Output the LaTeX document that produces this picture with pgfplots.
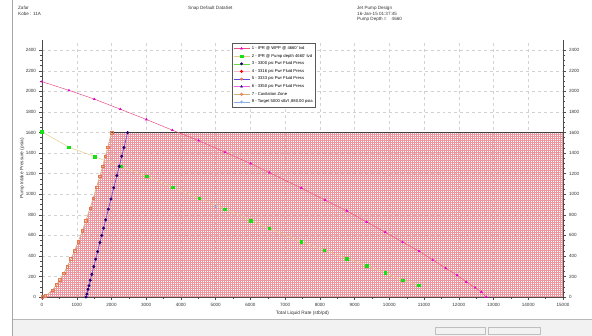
\documentclass[border=0pt]{standalone}
\usepackage{pgfplots}
\pgfplotsset{compat=1.18}
\usepackage{fontspec}
\setmainfont{Liberation Sans}
\usetikzlibrary{patterns.meta}
\definecolor{iprline}{RGB}{236,80,130}
\definecolor{iprmark}{RGB}{225,0,210}
\definecolor{grnmark}{RGB}{20,225,20}
\definecolor{grnline}{RGB}{228,205,140}
\definecolor{cavcol}{RGB}{228,120,80}
\definecolor{cavline}{RGB}{215,175,110}
\definecolor{pumpline}{RGB}{95,70,230}
\definecolor{pumpmark}{RGB}{30,0,120}
\definecolor{tgtcol}{RGB}{140,175,225}
\definecolor{hatch}{RGB}{236,150,160}
\begin{document}
\begin{tikzpicture}
\useasboundingbox (0bp,0bp) rectangle (592bp,336bp);
\fill[gray!10] (12bp,0bp) rectangle (592bp,17bp);
\draw[gray!55,line width=0.6bp] (12bp,17bp) -- (592bp,17bp);
\draw[gray!70,line width=0.6bp] (12bp,0bp) -- (12bp,336bp);
\draw[gray!50] (435bp,2bp) rectangle (485bp,9bp);
\draw[gray!50] (488bp,2bp) rectangle (540bp,9bp);
\begin{scope}[every node/.style={font=\fontsize{4.6}{5.6}\selectfont, inner sep=0pt, align=left, text=black!80}]
\node[anchor=north west] at (18bp,330bp) {Zafar\\Kobe : 11A};
\node[anchor=north west] at (188bp,330bp) {Snap Default DataSet};
\node[anchor=north west] at (357bp,330bp) {Jet Pump Design\\16-Jan-15 01:37:45\\Pump Depth = \ \ \ 4660};
\end{scope}
\begin{axis}[
  at={(42bp,39bp)}, anchor=south west, scale only axis,
  width=521bp, height=257bp,
  xmin=0, xmax=15000, ymin=0, ymax=2500,
  axis x line*=bottom, axis y line*=left,
  axis line style={black!70, line width=0.5bp},
  xtick={0,1000,...,15000}, ytick={0,200,...,2400},
  minor y tick num=3, minor x tick num=1,
  tick align=outside, major tick length=2.5bp, minor tick length=1.5bp,
  tick style={black!70, line width=0.4bp},
  scaled ticks=false,
  /pgf/number format/1000 sep={},
  /pgf/number format/assume math mode=true,
  tick label style={font=\fontsize{4.6}{5}\selectfont, text=black!80},
  grid=major, major grid style={gray!35, dashed, line width=0.4bp},
  xlabel={Total Liquid Rate (stb/pd)},
  ylabel={Pump Intake Pressure (psia)},
  label style={font=\fontsize{4.8}{5.5}\selectfont, text=black!80},
  xlabel style={at={(axis description cs:0.5,-0.062)}, anchor=center},
  ylabel style={at={(axis description cs:-0.038,0.5)}, anchor=center},
  legend style={at={(rel axis cs:0.3647,0.988)}, anchor=north west,
    font=\fontsize{4.2}{4.8}\selectfont, draw=black!65, line width=0.6bp,
    inner sep=1bp, row sep=-0.9bp, cells={anchor=west}, fill=white},
  legend image code/.code={\draw[mark repeat=2,mark phase=2] plot coordinates {(0bp,0bp)(8bp,0bp)(16bp,0bp)};},
]
% hatched operating region
\addplot[draw=none, pattern={Hatch[angle=0,distance=2bp,line width=0.25bp]}, pattern color=hatch, forget plot] coordinates {
(0,0)(95,10)(301,68)(416,117)(514,166)(626,231)(726,296)(832,371)(937,452)(1040,537)(1162,647)(1260,741)(1383,865)(1475,963)(1570,1070)(1661,1174)(1743,1271)(1821,1369)(1891,1457)(2000,1600)(15000,1600)(15000,0)(0,0)};
\addplot[black!75, line width=0.6bp, forget plot] coordinates {(2000,1600)(15000,1600)};
% legend images
\addlegendimage{iprline, line width=0.5bp, mark=triangle*, mark size=1.2bp, mark options={iprmark}}
\addlegendentry{1 - IPR @ WPP @ 4660' tvd}
\addlegendimage{grnline, line width=0.5bp, mark=square*, mark size=1.3bp, mark options={grnmark}}
\addlegendentry{2 - IPR @ Pump depth 4660' tvd}
\addlegendimage{grnmark!60!grnline, line width=0.5bp, mark=*, mark size=1.2bp, mark options={pumpmark}}
\addlegendentry{3 - 3300 psi Pwr Fluid Press}
\addlegendimage{iprline!40, line width=0.5bp, mark=*, mark size=1.2bp, mark options={red}}
\addlegendentry{4 - 3316 psi Pwr Fluid Press}
\addlegendimage{pumpline, line width=0.5bp, mark=*, mark size=1.2bp, mark options={cavcol!80!brown}}
\addlegendentry{5 - 3333 psi Pwr Fluid Press}
\addlegendimage{iprmark!60, line width=0.5bp, mark=triangle*, mark size=1.1bp, mark options={pumpmark}}
\addlegendentry{6 - 3350 psi Pwr Fluid Press}
\addlegendimage{cavline, line width=0.5bp, mark=o, mark size=1.3bp, mark options={cavcol}}
\addlegendentry{7 - Cavitation Zone}
\addlegendimage{tgtcol, line width=0.5bp, mark=diamond*, mark size=1.2bp, mark options={tgtcol}}
\addlegendentry{8 - Target 5000 stb/l ,880.00 psia}
% 1 - IPR @ WPP
\addplot[iprline, line width=0.5bp, mark=triangle*, mark size=1.1bp, mark options={iprmark}, forget plot] coordinates {
(0,2095)(777,2010)(1506,1925)(2255,1827)(3004,1727)(3753,1623)(4510,1522)(5270,1408)(6008,1298)(6545,1210)(7467,1060)(8148,943)(8773,839)(9349,729)(9880,630)(10385,534)(10855,446)(11249,361)(11623,280)(11949,212)(12217,146)(12468,91)(12650,49)(12790,0)};
% 2 - IPR @ pump depth
\addplot[grnline, line width=0.5bp, mark=square*, mark size=1.3bp, mark options={grnmark}, forget plot] coordinates {
(0,1607)(777,1457)(1516,1366)(2265,1270)(3014,1174)(3762,1067)(4530,959)(5270,855)(6008,744)(6545,667)(7467,537)(8130,455)(8773,374)(9349,306)(9880,234)(10385,163)(10855,114)};
% 7 - Cavitation zone
\addplot[cavline, line width=0.5bp, mark=square, mark size=1.3bp, mark options={cavcol, line width=0.4bp}, forget plot] coordinates {
(0,0)(95,10)(301,68)(416,117)(514,166)(626,231)(726,296)(832,371)(937,452)(1040,537)(1162,647)(1260,741)(1383,865)(1475,963)(1570,1070)(1661,1174)(1743,1271)(1821,1369)(1891,1457)(2000,1600)};
% 3-6 power fluid pressure lines (overlapping)
\addplot[pumpline, line width=0.6bp, mark=*, mark size=1.2bp, mark options={pumpmark}, forget plot] coordinates {
(1270,0)(1292,29)(1326,75)(1352,110)(1392,163)(1436,221)(1492,296)(1546,368)(1602,442)(1668,530)(1718,598)(1772,670)(1833,751)(1911,855)(1985,953)(2067,1063)(2155,1180)(2223,1271)(2297,1369)(2360,1454)(2465,1600)};
% 8 - target
\addplot[only marks, mark=diamond*, mark size=1.3bp, mark options={tgtcol}, forget plot] coordinates {(5000,880)};
\end{axis}
\begin{axis}[
  at={(42bp,39bp)}, anchor=south west, scale only axis,
  width=521bp, height=257bp,
  xmin=0, xmax=15000, ymin=0, ymax=2500,
  axis y line*=right, axis x line=none,
  axis line style={black!70, line width=0.5bp},
  ytick={0,200,...,2400}, minor y tick num=3,
  tick align=outside, major tick length=2.5bp, minor tick length=1.5bp,
  tick style={black!70, line width=0.4bp},
  /pgf/number format/1000 sep={},
  /pgf/number format/assume math mode=true,
  tick label style={font=\fontsize{4.6}{5}\selectfont, text=black!80},
]
\addplot[draw=none] coordinates {(0,0)};
\end{axis}
\end{tikzpicture}
\end{document}
